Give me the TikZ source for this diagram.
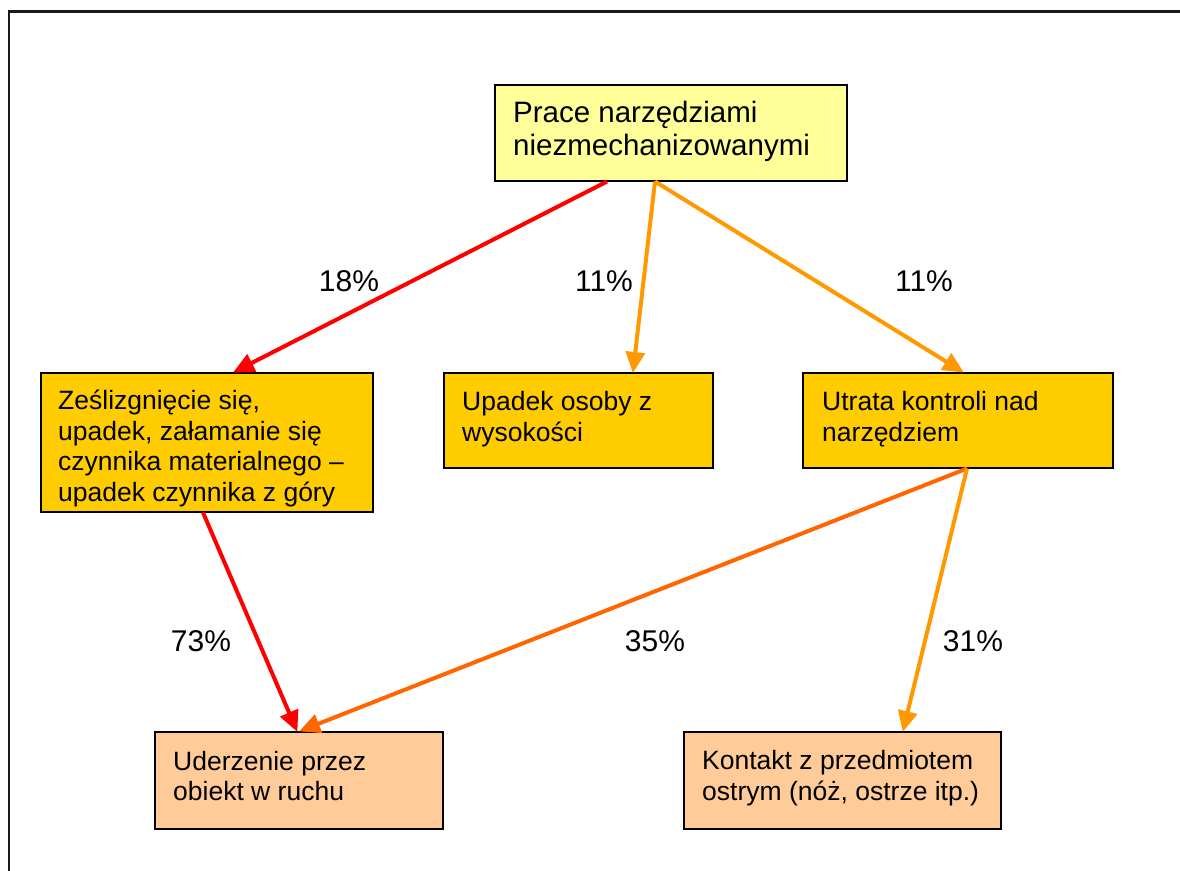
\documentclass[tikz,border=0pt]{standalone}
\usepackage{fontspec}
\setmainfont{Liberation Sans}
\usetikzlibrary{arrows.meta,calc}
\definecolor{topfill}{HTML}{FFFF99}
\definecolor{midfill}{HTML}{FFCC00}
\definecolor{botfill}{HTML}{FFCC99}
\definecolor{cred}{HTML}{FF0000}
\definecolor{corange}{HTML}{FF9900}
\definecolor{cdark}{HTML}{FF6600}
\tikzset{
  box/.style={draw=black, line width=1.5pt, anchor=north west, inner sep=0pt},
  txt/.style={align=left, inner sep=0pt, anchor=west, font=\fontsize{26.5}{30.5}\selectfont},
  conn/.style={line width=4pt, -{Triangle[length=21pt,width=19pt]}, shorten >=-1pt},
  pct/.style={font=\fontsize{30}{32}\selectfont, inner sep=0pt}
}
\begin{document}
\begin{tikzpicture}[x=1pt,y=-1pt]
\useasboundingbox (0,0) rectangle (1180,870);
\clip (0,0) rectangle (1180,870);
\draw[line width=2.5pt, black!90] (9,11.5) rectangle (1200,900);

% boxes
\node[box, fill=topfill, minimum width=352pt, minimum height=96pt] (top) at (494,84) {};
\node[box, fill=midfill, minimum width=332pt, minimum height=139pt] (left) at (40,372) {};
\node[box, fill=midfill, minimum width=269pt, minimum height=95pt] (mid) at (443,372) {};
\node[box, fill=midfill, minimum width=310pt, minimum height=95pt] (right) at (802,372) {};
\node[box, fill=botfill, minimum width=288pt, minimum height=97pt] (bl) at (154,731) {};
\node[box, fill=botfill, minimum width=317pt, minimum height=97pt] (br) at (683,731) {};

% texts
\node[txt, font=\fontsize{29.5}{33}\selectfont] (toptxt) at ($(top.west)+(19,-1)$)
  {Prace narzędziami\\niezmechanizowanymi};
\node[txt] (lefttxt) at ($(left.west)+(18,6)$)
  {Ześlizgnięcie się,\\upadek, załamanie się\\czynnika materialnego –\\upadek czynnika z góry};
\node[txt] (midtxt) at ($(mid.west)+(19,-1)$)
  {Upadek osoby z\\wysokości};
\node[txt] (righttxt) at ($(right.west)+(20,-1)$)
  {Utrata kontroli nad\\narzędziem};
\node[txt] (bltxt) at ($(bl.west)+(19,-4)$)
  {Uderzenie przez\\obiekt w ruchu};
\node[txt] (brtxt) at ($(br.west)+(19,-2)$)
  {Kontakt z przedmiotem\\ostrym (nóż, ostrze itp.)};

% connectors
\draw[conn, cred] ($(top.south west)+(113,0)$) -- ($(left.north west)+(194,0)$);
\draw[conn, corange] ($(top.south west)+(161,0)$) -- ($(mid.north west)+(190,0)$);
\draw[conn, corange] ($(top.south west)+(161,0)$) -- ($(right.north west)+(161,0)$);
\draw[conn, cred] ($(left.south west)+(163,0)$) -- ($(bl.north west)+(143,0)$);
\draw[conn, cdark] ($(right.south west)+(165,0)$) -- ($(bl.north west)+(146,0)$);
\draw[conn, corange] ($(right.south west)+(165,0)$) -- ($(br.north west)+(220,0)$);

% percentages
\node[pct] (p1) at (349,281) {18\%};
\node[pct] (p2) at (604,281) {11\%};
\node[pct] (p3) at (924,281) {11\%};
\node[pct] (p4) at (201,641) {73\%};
\node[pct] (p5) at (655,641) {35\%};
\node[pct] (p6) at (973,641) {31\%};
\end{tikzpicture}
\end{document}
